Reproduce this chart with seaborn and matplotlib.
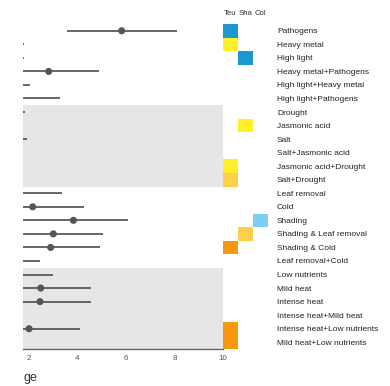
import numpy as np
import pandas as pd
import matplotlib
matplotlib.use("Agg")
import matplotlib.pyplot as plt
from matplotlib.colors import ListedColormap
import seaborn as sns

# Conditions, top to bottom
conditions = [
    "Pathogens", "Heavy metal", "High light", "Heavy metal+Pathogens",
    "High light+Heavy metal", "High light+Pathogens", "Drought", "Jasmonic acid",
    "Salt", "Salt+Jasmonic acid", "Jasmonic acid+Drought", "Salt+Drought",
    "Leaf removal", "Cold", "Shading", "Shading & Leaf removal",
    "Shading & Cold", "Leaf removal+Cold", "Low nutrients", "Mild heat",
    "Intense heat", "Intense heat+Mild heat", "Intense heat+Low nutrients",
    "Mild heat+Low nutrients",
]

# Estimate with lower / upper interval per condition
est_mean = [5.82, 1.10, 1.00, 2.81, 1.30, 1.60, 1.10, 0.90,
            1.20, 0.90, 0.90, 0.90, 1.60, 2.15, 3.83, 3.00,
            2.89, 1.40, 1.60, 2.48, 2.45, 0.90, 2.00, 0.90]
est_low = [3.58, 0.60, 0.50, 0.80, 0.60, 0.50, 0.50, 0.40,
           0.50, 0.40, 0.40, 0.40, 0.50, 0.10, 1.60, 1.00,
           0.90, 0.50, 0.50, 0.40, 0.40, 0.40, -0.10, 0.40]
est_high = [8.12, 1.80, 1.80, 4.90, 2.04, 3.28, 1.82, 1.50,
            1.93, 1.50, 1.50, 1.50, 3.35, 4.28, 6.07, 5.04,
            4.93, 2.45, 3.00, 4.54, 4.54, 1.50, 4.10, 1.50]

# Species columns and the category tile shown for each condition
species = ["Teu", "Sha", "Col"]
teu = ["blue", "yellow", None, None, None, None, None, None,
       None, None, "yellow", "light orange", None, None, None, None,
       "orange", None, None, None, None, None, "orange", "orange"]
sha = [None, None, "blue", None, None, None, None, "yellow",
       None, None, None, None, None, None, None, "light orange",
       None, None, None, None, None, None, None, None]
col = [None] * 14 + ["light blue"] + [None] * 9

category_colors = {
    "blue": "#1b98cf",
    "yellow": "#fff02a",
    "light orange": "#fdd04c",
    "orange": "#f7960f",
    "light blue": "#80cdf4",
}

xticks = [2, 4, 6, 8, 10]
shaded_groups = [(6, 11), (18, 23)]

df = pd.DataFrame({"condition": conditions, "mean": est_mean,
                   "low": est_low, "high": est_high})
df["row"] = np.arange(len(df))

sns.set_theme(style="white")
plt.rcParams["font.family"] = ["Liberation Sans", "DejaVu Sans"]

fig = plt.figure(figsize=(3.9, 3.86), dpi=100)
W, H = 390, 386
top_px, bot_px = 24, 349
ax = fig.add_axes([23 / W, (H - bot_px) / H, 200 / W, (bot_px - top_px) / H])
hax = fig.add_axes([223 / W, (H - bot_px) / H, 45 / W, (bot_px - top_px) / H])

# Forest panel
n = len(df)
for a, b in shaded_groups:
    ax.axhspan(a - 0.5, b + 0.5, color="#e6e6e6", lw=0, zorder=0)
ax.hlines(df["row"], df["low"], df["high"], color="#5a5a5a", lw=1.3, zorder=2)
sns.scatterplot(data=df, x="mean", y="row", ax=ax, color="#555555",
                s=26, edgecolor="none", zorder=3, legend=False)
ax.set_xlim(1.75, 10.0)
ax.set_ylim(n - 0.5, -0.5)
ax.set_xticks(xticks)
ax.set_xticklabels([str(t) for t in xticks])
ax.set_yticks([])
ax.set_xlabel("")
ax.set_ylabel("")
ax.tick_params(axis="x", length=0, pad=4, labelsize=5.8, labelcolor="#555555")
for s in ["top", "right", "left"]:
    ax.spines[s].set_visible(False)
ax.spines["bottom"].set_color("#666666")
ax.spines["bottom"].set_linewidth(1.0)
ax.set_facecolor("white")

# Category tiles
names = list(category_colors)
code = {k: i + 1 for i, k in enumerate(names)}
mat = pd.DataFrame(
    {sp: [code[v] if v else np.nan for v in vals]
     for sp, vals in zip(species, [teu, sha, col])},
    index=conditions,
)
cmap = ListedColormap([category_colors[k] for k in names])
sns.heatmap(mat, ax=hax, cmap=cmap, vmin=0.5, vmax=len(names) + 0.5,
            cbar=False, linewidths=0, xticklabels=species,
            yticklabels=conditions)
hax.xaxis.tick_top()
hax.yaxis.tick_right()
hax.tick_params(axis="x", length=0, pad=5, labelsize=5.6, labelcolor="#333333",
                rotation=0)
hax.tick_params(axis="y", length=0, pad=6.5, labelsize=6, labelcolor="#222222",
                rotation=0)
hax.set_xlabel("")
hax.set_ylabel("")
for lbl in hax.get_yticklabels():
    lbl.set_horizontalalignment("left")

fig.text(23 / W, 1 - 378 / H, "ge", fontsize=9, color="#333333",
         ha="left", va="center")

fig.savefig("out.png", dpi=100)
